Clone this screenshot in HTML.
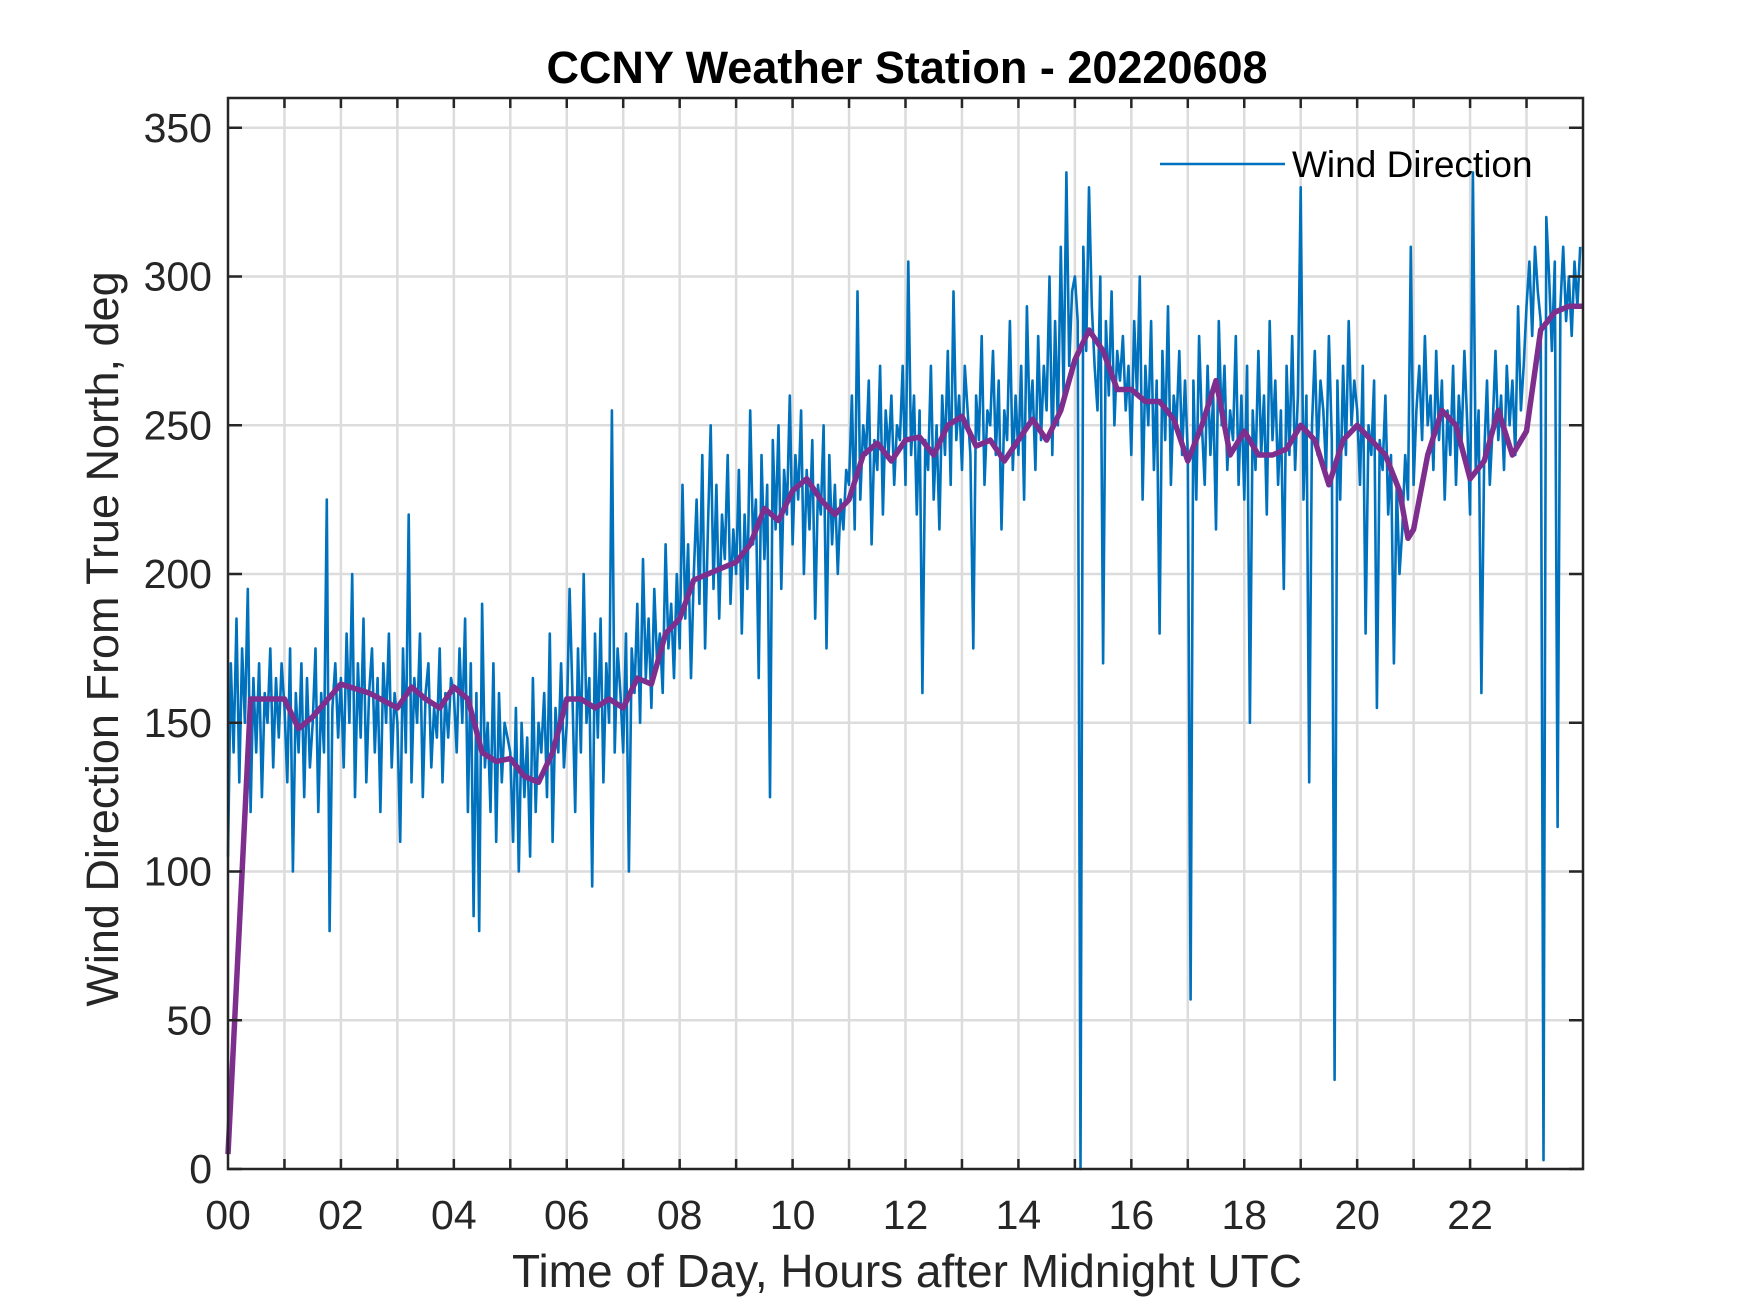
<!DOCTYPE html>
<html><head><meta charset="utf-8"><style>
html,body{margin:0;padding:0;background:#fff;}
svg{display:block;font-family:"Liberation Sans",Arial,sans-serif;}
</style></head><body>
<svg id="chart" width="1750" height="1313" viewBox="0 0 1750 1313">
<rect width="1750" height="1313" fill="#fff"/>
<g id="grid"></g>
<g id="series"></g>
<g id="axes"></g>
<text x="907" y="83" text-anchor="middle" font-size="45" font-weight="bold" fill="#000">CCNY Weather Station - 20220608</text>
<text x="907" y="1287" text-anchor="middle" font-size="46" fill="#262626">Time of Day, Hours after Midnight UTC</text>
<text transform="translate(118,639) rotate(-90)" text-anchor="middle" font-size="45" fill="#262626">Wind Direction From True North, deg</text>
<g>
<line x1="1160" y1="164" x2="1285" y2="164" stroke="#0072bd" stroke-width="2.5"/>
<text x="1292" y="177" font-size="37" fill="#000">Wind Direction</text>
</g>
</svg>
<script>
const xTicks = [0,2,4,6,8,10,12,14,16,18,20,22];
const xTickLabels = ["00","02","04","06","08","10","12","14","16","18","20","22"];
const yTicks = [0,50,100,150,200,250,300,350];
const yTickLabels = ["0","50","100","150","200","250","300","350"];
const meanTimes = [0,0.25,0.4,0.5,1.0,1.25,1.5,2.0,2.5,3.0,3.25,3.5,3.75,4.0,4.25,4.5,4.75,5.0,5.25,5.5,5.75,6.0,6.25,6.5,6.75,7.0,7.25,7.5,7.75,8.0,8.25,8.5,8.75,9.0,9.25,9.5,9.75,10.0,10.25,10.5,10.75,11.0,11.25,11.5,11.75,12.0,12.25,12.5,12.75,13.0,13.25,13.5,13.75,14.0,14.25,14.5,14.75,15.0,15.25,15.5,15.75,16.0,16.25,16.5,16.75,17.0,17.25,17.5,17.75,18.0,18.25,18.5,18.75,19.0,19.25,19.5,19.75,20.0,20.25,20.5,20.75,20.9,21.0,21.25,21.5,21.75,22.0,22.25,22.5,22.75,23.0,23.25,23.5,23.75,24.0];
const meanValues = [5,100,158,158,158,148,152,163,160,155,162,158,155,162,158,140,137,138,132,130,140,158,158,155,158,155,165,163,180,185,198,200,202,204,210,222,218,228,232,225,220,225,240,244,238,245,246,240,250,253,243,245,238,245,252,245,255,272,282,275,262,262,258,258,252,238,250,265,240,248,240,240,242,250,245,230,245,250,245,240,228,212,215,240,255,250,232,238,255,240,248,282,288,290,290];
const windValues = [
105,170,140,185,130,175,150,195,120,165,140,170,125,160,150,175,135,165,145,170,
155,130,175,100,160,140,170,125,165,135,150,175,120,160,140,225,80,155,170,145,
165,135,180,150,200,125,170,145,185,130,160,175,140,165,120,170,150,180,135,160,
150,110,175,140,220,130,165,150,180,125,160,170,135,155,145,175,130,160,145,165,
160,140,175,150,185,120,170,85,160,80,190,135,150,120,170,110,160,130,150,145,
140,110,155,100,150,125,145,105,165,120,150,140,160,125,180,110,155,140,170,135,
150,195,160,120,175,140,200,150,165,95,180,145,185,130,170,150,255,140,175,160,
140,180,100,175,160,190,150,205,165,185,155,195,170,180,160,210,175,190,165,200,
175,230,185,210,165,200,225,190,240,175,215,250,195,230,185,220,205,240,190,215,
200,235,180,220,195,255,210,225,165,240,205,230,125,245,215,250,195,235,220,260,
210,240,225,255,200,235,215,245,185,230,220,250,175,240,210,230,200,225,215,235,
230,260,215,295,225,250,240,265,210,245,235,270,220,255,240,260,230,250,245,270,
230,305,240,260,220,255,160,245,235,270,225,250,215,260,240,275,230,295,245,260,
235,270,255,240,175,260,245,280,230,255,250,275,240,265,215,255,245,285,235,260,
240,270,225,290,250,265,235,280,245,270,255,300,240,285,250,310,260,335,270,295,
300,285,0,310,275,330,290,270,255,300,170,285,260,295,250,275,265,280,255,270,
240,285,260,300,225,270,250,285,235,265,180,275,245,290,230,260,250,275,240,265,
240,57,265,225,280,250,230,270,240,260,215,285,250,270,235,255,245,280,230,260,
225,270,150,255,235,275,240,260,220,285,245,265,230,255,195,270,240,280,235,260,
330,225,260,130,250,275,240,265,255,235,280,245,30,265,225,270,240,285,250,265,
255,230,270,180,250,240,265,155,245,235,260,220,240,170,230,200,215,240,225,310,
230,255,270,245,280,250,260,235,275,245,265,225,255,240,270,230,260,245,275,250,
220,335,235,255,160,240,265,230,250,275,245,260,235,270,250,265,240,290,255,270,
290,305,280,310,295,285,3,320,300,275,305,115,290,310,285,300,280,305,290,310
];
const X0=228, X1=1583, Y0=1169, Y1=98, XMAX=24, YMAX=360;
function xs(h){return X0+(X1-X0)*h/XMAX;}
function ys(v){return Y0-(Y0-Y1)*v/YMAX;}
const NS="http://www.w3.org/2000/svg";
function mk(tag,attrs,parent){const e=document.createElementNS(NS,tag);for(const k in attrs)e.setAttribute(k,attrs[k]);parent.appendChild(e);return e;}
const grid=document.getElementById('grid'), axes=document.getElementById('axes'), series=document.getElementById('series');
for(let h=1;h<24;h++){
  const g=mk('line',{x1:xs(h),x2:xs(h),y1:Y1,y2:Y0,stroke:'#dcdcdc','stroke-width':2.5},grid);
  
  
  for(const [ya,yb] of [[Y0,Y0-10],[Y1,Y1+10]]){
    const t=mk('line',{x1:xs(h),x2:xs(h),y1:ya,y2:yb,stroke:'#262626','stroke-width':2.5},axes);
    
    
  }
}
yTicks.forEach((v,i)=>{
  if(v>0){
    const g=mk('line',{x1:X0,x2:X1,y1:ys(v),y2:ys(v),stroke:'#dcdcdc','stroke-width':2.5},grid);
    
    
  }
  for(const [xa,xb] of [[X0,X0+14],[X1,X1-14]]){
    const t=mk('line',{x1:xa,x2:xb,y1:ys(v),y2:ys(v),stroke:'#262626','stroke-width':2.5},axes);
    
    
  }
  const l=mk('text',{x:X0-16,y:ys(v)+14,'text-anchor':'end','font-size':41,fill:'#262626'},axes);
  l.textContent=yTickLabels[i];
  
  
});
xTicks.forEach((h,i)=>{
  const l=mk('text',{x:xs(h),y:1229,'text-anchor':'middle','font-size':41,fill:'#262626'},axes);
  l.textContent=xTickLabels[i];
  
  
});
const n=windValues.length;
const wp=windValues.map((v,i)=>xs(i*XMAX/n).toFixed(1)+','+ys(v).toFixed(1)).join(' ');
const wl=mk('polyline',{points:wp,fill:'none',stroke:'#0072bd','stroke-width':2.6,'stroke-linejoin':'round'},series);


const mp=meanValues.map((v,i)=>xs(meanTimes[i]).toFixed(1)+','+ys(v).toFixed(1)).join(' ');
const ml=mk('polyline',{points:mp,fill:'none',stroke:'#7e2f8e','stroke-width':5.5,'stroke-linejoin':'round'},series);


const box=mk('rect',{x:X0,y:Y1,width:X1-X0,height:Y0-Y1,fill:'none',stroke:'#262626','stroke-width':2.5},axes);


</script>
</body></html>
